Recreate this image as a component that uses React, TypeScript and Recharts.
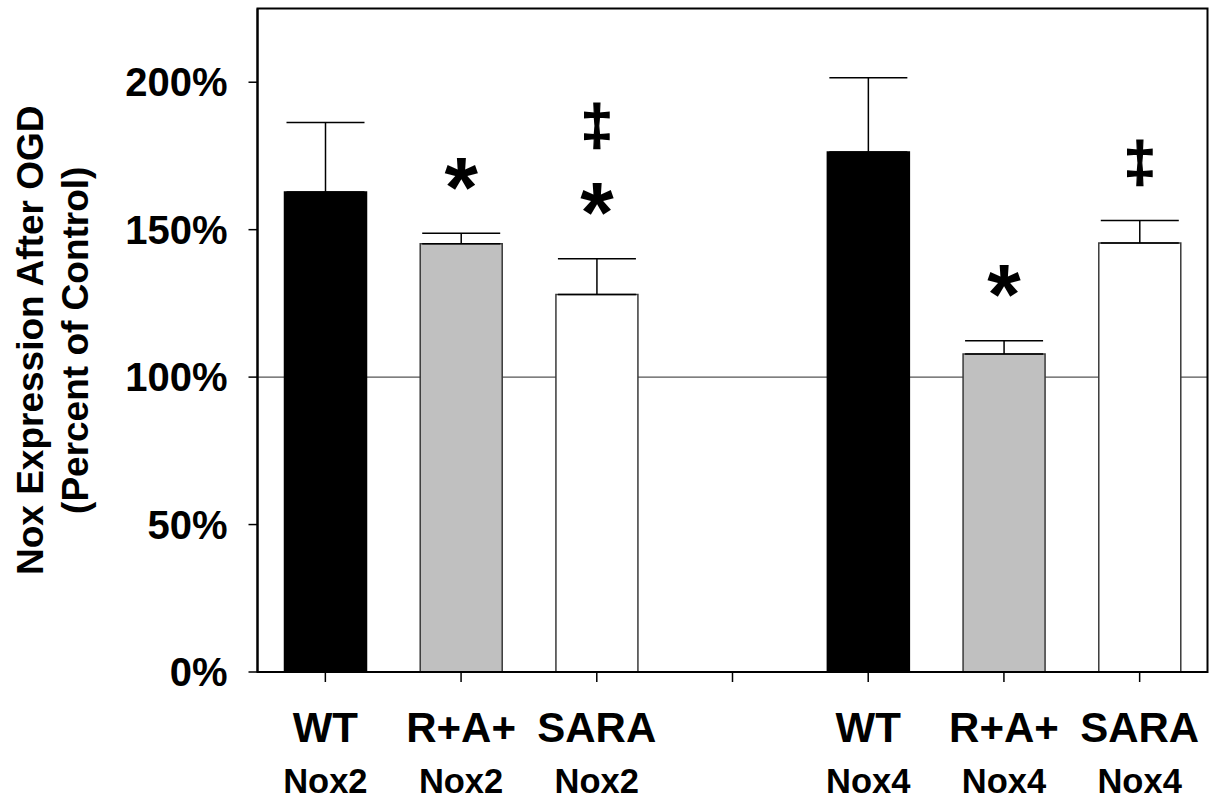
import React from "react";
import {
  BarChart,
  Bar,
  Cell,
  XAxis,
  YAxis,
  CartesianGrid,
  ReferenceArea,
  ErrorBar,
  LabelList,
} from "recharts";

// one slot per bar, the empty slot splits the Nox2 and Nox4 groups
const groups = ["WT", "R+A+", "SARA", "", "WT", "R+A+", "SARA"];
const isoforms = ["Nox2", "Nox2", "Nox2", "", "Nox4", "Nox4", "Nox4"];
const means = [162.8, 145.2, 128.0, null, 176.3, 107.8, 145.5];
const sems = [23.5, 3.6, 12.1, null, 25.2, 4.5, 7.6];
const marks: string[][] = [[], ["*"], ["*", "‡"], [], [], ["*"], ["‡"]];
const yTicks = [0, 50, 100, 150, 200];
const controlLevel = 100;

const fills = ["#000000", "#c0c0c0", "#ffffff", "none", "#000000", "#c0c0c0", "#ffffff"];
const strokes = ["#000000", "#3a3a3a", "#3a3a3a", "none", "#000000", "#3a3a3a", "#3a3a3a"];

const data = groups.map((g, i) => ({
  key: i,
  group: g,
  mean: means[i],
  err: sems[i] == null ? null : [0, sems[i]],
}));

const FONT = "'Liberation Sans', Arial, Helvetica, sans-serif";

const XTick = (props: any) => {
  const { x, y, payload } = props;
  const i = payload.index ?? payload.value;
  return (
    <g>
      <text x={x} y={y + 58} textAnchor="middle" fontSize={42} fontWeight="bold" fill="#000" fontFamily={FONT}>
        {groups[i]}
      </text>
      <text x={x} y={y + 109} textAnchor="middle" fontSize={34.5} fontWeight="bold" fill="#000" fontFamily={FONT}>
        {isoforms[i]}
      </text>
    </g>
  );
};

const YTitle = (props: any) => {
  const vb = props.viewBox || {};
  const cy = vb.y + vb.height / 2;
  return (
    <g fontFamily={FONT} fontWeight="bold" fontSize={37} fill="#000">
      <text x={43} y={cy} transform={`rotate(-90, 43, ${cy})`} textAnchor="middle">
        Nox Expression After OGD
      </text>
      <text x={88} y={cy} transform={`rotate(-90, 88, ${cy})`} textAnchor="middle">
        (Percent of Control)
      </text>
    </g>
  );
};

// significance marks stacked above the error bar cap
const SigMarks = (props: any) => {
  const vb = props.viewBox || props;
  const { x, y, width, height } = vb;
  const i = props.value;
  const list = marks[i];
  if (!list || list.length === 0 || means[i] == null) return null;
  const pxPerUnit = height / (means[i] as number);
  const capY = y - (sems[i] as number) * pxPerUnit;
  const cx = x + width / 2;
  return (
    <g fontFamily={FONT} fontWeight="bold" fill="#000">
      {list.map((m, k) => {
        const center = capY - 56 - k * 75;
        const isStar = m === "*";
        const size = isStar ? 86 : 58;
        const base = isStar ? center + 0.46 * size : center + 0.3 * size;
        return (
          <text key={k} x={cx} y={base} textAnchor="middle" fontSize={size} stroke={isStar ? "none" : "#000"} strokeWidth={isStar ? 0 : 1.2}>
            {m}
          </text>
        );
      })}
    </g>
  );
};

// the 100% control line sits behind the bars, so it is drawn as a grid line
const controlLine = ({ yAxis }: any) => {
  const s = yAxis && yAxis.scale;
  if (typeof s === "function") return [s(controlLevel)];
  if (s && typeof s.map === "function") return [s.map(controlLevel)];
  if (s && typeof s.scale === "function") return [s.scale(controlLevel)];
  return [];
};

export default function App() {
  return (
    <div style={{ position: "absolute", left: 0, top: 0, background: "#fff" }}>
      <BarChart
        width={1218}
        height={800}
        data={data}
        margin={{ top: 8.5, right: 10.5, bottom: 0, left: 0 }}
        style={{ fontFamily: FONT }}
      >
        <CartesianGrid
          vertical={false}
          stroke="#555"
          strokeWidth={1.2}
          horizontalCoordinatesGenerator={controlLine}
        />
        <XAxis
          dataKey="key"
          interval={0}
          height={128}
          tickSize={10}
          tickLine={{ stroke: "#000", strokeWidth: 1.5 }}
          axisLine={{ stroke: "#000", strokeWidth: 2 }}
          tick={<XTick />}
        />
        <YAxis
          width={257.5}
          domain={[0, 225]}
          ticks={yTicks}
          interval={0}
          tickSize={9}
          tickMargin={21}
          tickFormatter={(v: number) => `${v}%`}
          tick={{ fontSize: 40, fontWeight: "bold", fill: "#000", fontFamily: FONT }}
          tickLine={{ stroke: "#000", strokeWidth: 1.5 }}
          axisLine={{ stroke: "#000", strokeWidth: 2 }}
          label={<YTitle />}
        />
        <ReferenceArea y1={0} y2={225} fill="none" fillOpacity={0} stroke="#000" strokeWidth={2} ifOverflow="visible" />
        <Bar dataKey="mean" barSize={82} isAnimationActive={false}>
          {data.map((d, i) => (
            <Cell key={d.key} fill={fills[i]} stroke={strokes[i]} strokeWidth={1.5} />
          ))}
          <ErrorBar dataKey="err" direction="y" width={39} stroke="#000" strokeWidth={1.5} />
          <LabelList dataKey="key" content={<SigMarks />} />
        </Bar>
      </BarChart>
    </div>
  );
}
